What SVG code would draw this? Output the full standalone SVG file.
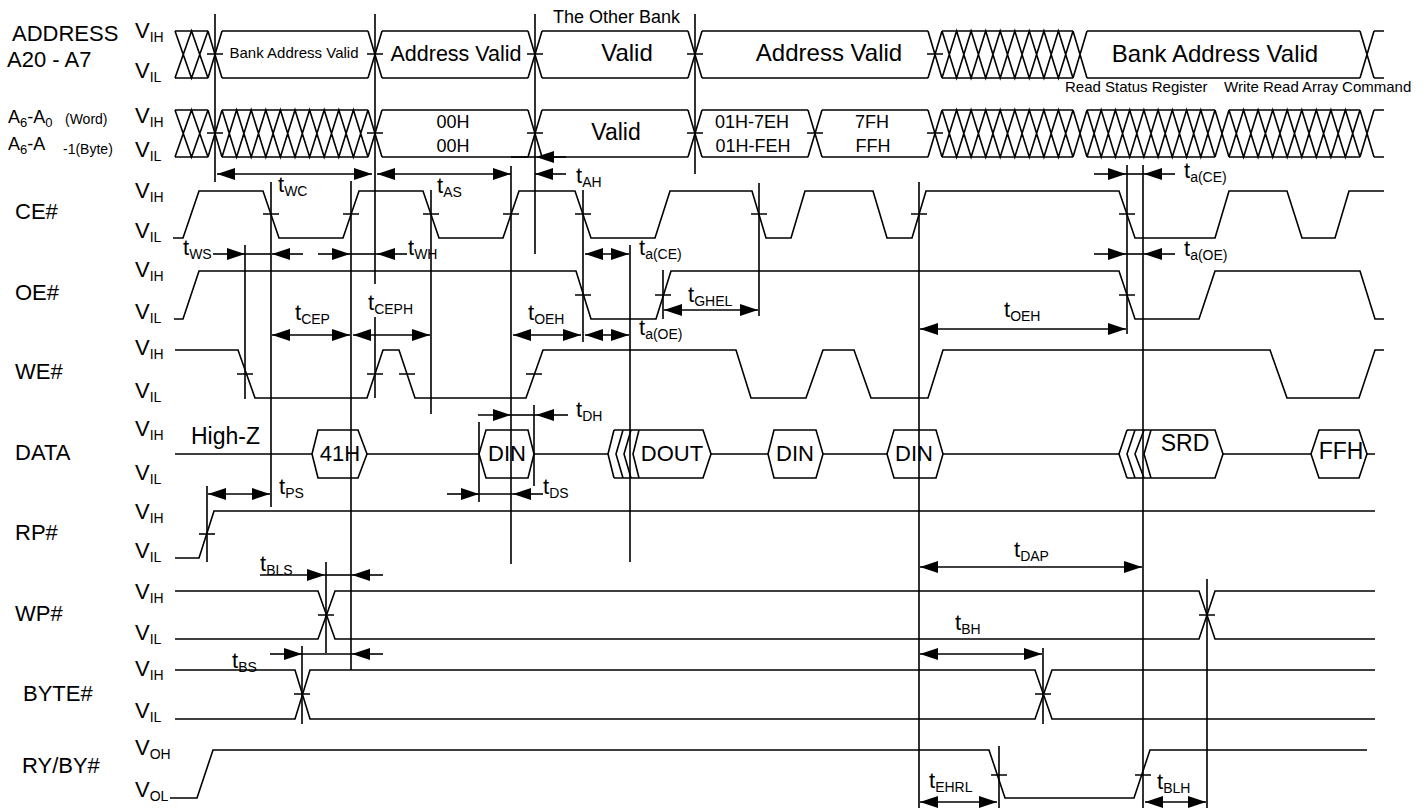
<svg xmlns="http://www.w3.org/2000/svg" width="1428" height="808" viewBox="0 0 1428 808">
<defs>
<marker id="ah" viewBox="0 0 18 12" markerWidth="18" markerHeight="12" refX="18" refY="6" orient="auto-start-reverse" markerUnits="userSpaceOnUse"><path d="M0,0 L18,6 L0,12 z" fill="#000"/></marker>
</defs>
<style>
.w{fill:none;stroke:#000;stroke-width:1.6}
.a{fill:none;stroke:#000;stroke-width:1.6;marker-end:url(#ah)}
.d{fill:none;stroke:#000;stroke-width:1.6;marker-start:url(#ah);marker-end:url(#ah)}
text{font-family:"Liberation Sans",Arial,Helvetica,sans-serif;fill:#000}
.n{font-size:22px}
.v{font-size:22px}
.s{font-size:14px}
.c{text-anchor:middle}
</style>
<rect width="1428" height="808" fill="#fff"/>

<g id="sig-address">
<text class="n" x="12" y="41">ADDRESS</text>
<text class="n" x="7" y="67">A20 - A7</text>
<text class="v" x="135" y="38">V<tspan class="s" dy="4">IH</tspan></text>
<text class="v" x="135" y="78">V<tspan class="s" dy="4">IL</tspan></text>
<path class="w" d="M175,31 H208 M222,31 H368 M382,31 H528 M542,31 H688 M702,31 H928 M942,31 H1073 M1087,31 H1360 M1374,31 H1384 M175,78 H208 M222,78 H368 M382,78 H528 M542,78 H688 M702,78 H928 M942,78 H1073 M1087,78 H1360 M1374,78 H1384"/>
<path class="w" d="M208,31 L222,78 M208,78 L222,31 M368,31 L382,78 M368,78 L382,31 M528,31 L542,78 M528,78 L542,31 M688,31 L702,78 M688,78 L702,31 M928,31 L942,78 M928,78 L942,31 M1073,31 L1087,78 M1073,78 L1087,31 M1360,31 L1374,78 M1360,78 L1374,31"/>
<path class="w" d="M175,31 L191.5,78 L208,31 M175,78 L191.5,31 L208,78 M942,31 L956.6,78 L971.1,31 L985.7,78 L1000.2,31 L1014.8,78 L1029.3,31 L1043.9,78 L1058.4,31 L1073,78 M942,78 L956.6,31 L971.1,78 L985.7,31 L1000.2,78 L1014.8,31 L1029.3,78 L1043.9,31 L1058.4,78 L1073,31"/>
<path class="w" d="M207,54 H223 M367,54 H383 M527,54 H543 M687,54 H703 M927,54 H943"/>
<text x="294" y="58" font-size="15" class="c">Bank Address Valid</text>
<text x="456" y="61" font-size="21.5" class="c">Address Valid</text>
<text x="627" y="61" font-size="24" class="c">Valid</text>
<text x="829" y="61" font-size="24" class="c">Address Valid</text>
<text x="1215" y="62" font-size="24" class="c">Bank Address Valid</text>
<text x="553" y="23" font-size="18">The Other Bank</text>
<text x="1065" y="92" font-size="15">Read Status Register</text>
<text x="1224" y="92" font-size="15">Write Read Array Command</text>
</g>

<g id="sig-a">
<text x="8" y="123" font-size="18">A<tspan font-size="13" dy="4">6</tspan><tspan dy="-4">-A</tspan><tspan font-size="13" dy="4">0</tspan><tspan x="65" font-size="14" dy="-3">(Word)</tspan></text>
<text x="8" y="150" font-size="18">A<tspan font-size="13" dy="4">6</tspan><tspan dy="-4">-A</tspan><tspan x="63" font-size="14" dy="4">-1</tspan><tspan font-size="14">(Byte)</tspan></text>
<text class="v" x="135" y="123">V<tspan class="s" dy="4">IH</tspan></text>
<text class="v" x="135" y="157">V<tspan class="s" dy="4">IL</tspan></text>
<path class="w" d="M175,110 H208 M222,110 H368 M382,110 H528 M542,110 H688 M702,110 H808 M822,110 H928 M942,110 H1073 M1087,110 H1215 M1229,110 H1360 M1374,110 H1384 M175,157 H208 M222,157 H368 M382,157 H528 M542,157 H688 M702,157 H808 M822,157 H928 M942,157 H1073 M1087,157 H1215 M1229,157 H1360 M1374,157 H1384"/>
<path class="w" d="M208,110 L222,157 M208,157 L222,110 M368,110 L382,157 M368,157 L382,110 M528,110 L542,157 M528,157 L542,110 M688,110 L702,157 M688,157 L702,110 M808,110 L822,157 M808,157 L822,110 M928,110 L942,157 M928,157 L942,110 M1073,110 L1087,157 M1073,157 L1087,110 M1215,110 L1229,157 M1215,157 L1229,110 M1360,110 L1374,157 M1360,157 L1374,110"/>
<path class="w" d="M175,110 L191.5,157 L208,110 M175,157 L191.5,110 L208,157
M222,110 L236.6,157 L251.2,110 L265.8,157 L280.4,110 L295,157 L309.6,110 L324.2,157 L338.8,110 L353.4,157 L368,110
M222,157 L236.6,110 L251.2,157 L265.8,110 L280.4,157 L295,110 L309.6,157 L324.2,110 L338.8,157 L353.4,110 L368,157
M942,110 L956.6,157 L971.1,110 L985.7,157 L1000.2,110 L1014.8,157 L1029.3,110 L1043.9,157 L1058.4,110 L1073,157
M942,157 L956.6,110 L971.1,157 L985.7,110 L1000.2,157 L1014.8,110 L1029.3,157 L1043.9,110 L1058.4,157 L1073,110
M1087,110 L1101.2,157 L1115.4,110 L1129.7,157 L1143.9,110 L1158.1,157 L1172.3,110 L1186.6,157 L1200.8,110 L1215,157
M1087,157 L1101.2,110 L1115.4,157 L1129.7,110 L1143.9,157 L1158.1,110 L1172.3,157 L1186.6,110 L1200.8,157 L1215,110
M1229,110 L1243.6,157 L1258.1,110 L1272.7,157 L1287.2,110 L1301.8,157 L1316.3,110 L1330.9,157 L1345.4,110 L1360,157
M1229,157 L1243.6,110 L1258.1,157 L1272.7,110 L1287.2,157 L1301.8,110 L1316.3,157 L1330.9,110 L1345.4,157 L1360,110"/>
<path class="w" d="M207,133 H223 M367,133 H383 M527,133 H543 M687,133 H703 M807,133 H823 M927,133 H943"/>
<text x="453" y="128" font-size="18" class="c">00H</text>
<text x="453" y="152" font-size="18" class="c">00H</text>
<text x="616" y="140" font-size="23" class="c">Valid</text>
<text x="752" y="128" font-size="18" class="c">01H-7EH</text>
<text x="753" y="152" font-size="18" class="c">01H-FEH</text>
<text x="872" y="128" font-size="18" class="c">7FH</text>
<text x="873" y="152" font-size="18" class="c">FFH</text>
</g>

<g id="sig-ce">
<text class="n" x="15" y="219">CE#</text>
<text class="v" x="135" y="198">V<tspan class="s" dy="4">IH</tspan></text>
<text class="v" x="135" y="238">V<tspan class="s" dy="4">IL</tspan></text>
<path class="w" d="M173,238 H183 L199,191 H263 L279,238 H343 L359,191 H423 L439,238 H503 L519,191 H575 L591,238 H655 L670,191 H752 L766,238 H791 L805,191 H873 L887,238 H912 L926,191 H1119 L1135,238 H1215 L1229,191 H1287 L1302,238 H1335 L1349,191 H1384"/>
<path class="w" d="M263,214 H279 M343,214 H359 M423,214 H439 M503,214 H519 M575,214 H591 M751,214 H767 M911,214 H927 M1119,214 H1135"/>
</g>

<g id="sig-oe">
<text class="n" x="15" y="300">OE#</text>
<text class="v" x="135" y="277">V<tspan class="s" dy="4">IH</tspan></text>
<text class="v" x="135" y="319">V<tspan class="s" dy="4">IL</tspan></text>
<path class="w" d="M174,319 H183 L199,271 H576 L591,319 H656 L671,271 H1119 L1135,319 H1199 L1215,271 H1360 L1375,319 H1384"/>
<path class="w" d="M575,295 H591 M655,295 H671 M1119,295 H1135"/>
</g>

<g id="sig-we">
<text class="n" x="15" y="379">WE#</text>
<text class="v" x="135" y="355">V<tspan class="s" dy="4">IH</tspan></text>
<text class="v" x="135" y="398">V<tspan class="s" dy="4">IL</tspan></text>
<path class="w" d="M175,350 H238 L255,398 H367 L383,350 H399 L415,398 H526 L543,350 H736 L751,398 H806 L823,350 H854 L871,398 H928 L943,350 H1270 L1287,398 H1359 L1375,350 H1384"/>
<path class="w" d="M237,374 H253 M367,374 H383 M399,374 H415 M526,374 H542"/>
</g>

<g id="sig-data">
<text class="n" x="15" y="460">DATA</text>
<text class="v" x="135" y="436">V<tspan class="s" dy="4">IH</tspan></text>
<text class="v" x="135" y="480">V<tspan class="s" dy="4">IL</tspan></text>
<path class="w" d="M175,454 H312 M367,454 H479 M534,454 H608 M711,454 H768 M823,454 H887 M943,454 H1119 M1223,454 H1311 M1367,454 H1375"/>
<path class="w" d="M312,454 L318,430 H358 L367,454 L358,478 H318 Z"/>
<path class="w" d="M479,454 L486,430 H528 L534,454 L528,478 H486 Z"/>
<path class="w" d="M614,430 L608,454 L614,478 M623,430 L616,454 L623,478 M631,430 L624,454 L631,478 M639,430 L633,454 L639,478 M614,430 H703 L711,454 L703,478 H614"/>
<path class="w" d="M768,454 L774,430 H816 L823,454 L816,478 H774 Z"/>
<path class="w" d="M887,454 L894,430 H936 L943,454 L936,478 H894 Z"/>
<path class="w" d="M1127,430 L1119,454 L1127,478 M1135,430 L1127,454 L1135,478 M1144,430 L1135,454 L1144,478 M1151,430 L1144,454 L1151,478 M1127,430 H1215 L1223,454 L1215,478 H1127"/>
<path class="w" d="M1311,454 L1319,430 H1359 L1367,454 L1359,478 H1319 Z"/>
<text x="191" y="444" font-size="23">High-Z</text>
<text x="340" y="461" font-size="22" class="c">41H</text>
<text x="507" y="461" font-size="22" class="c">DIN</text>
<text x="672" y="461" font-size="22" class="c">DOUT</text>
<text x="795" y="461" font-size="22" class="c">DIN</text>
<text x="914" y="461" font-size="22" class="c">DIN</text>
<text x="1185" y="451" font-size="23" class="c">SRD</text>
<text x="1341" y="459" font-size="23" class="c">FFH</text>
</g>

<g id="sig-rp">
<text class="n" x="15" y="540">RP#</text>
<text class="v" x="135" y="519">V<tspan class="s" dy="4">IH</tspan></text>
<text class="v" x="135" y="558">V<tspan class="s" dy="4">IL</tspan></text>
<path class="w" d="M175,558 H199 L214,511 H1375"/>
<path class="w" d="M199,534 H215"/>
</g>

<g id="sig-wp">
<text class="n" x="15" y="621">WP#</text>
<text class="v" x="135" y="599">V<tspan class="s" dy="4">IH</tspan></text>
<text class="v" x="135" y="640">V<tspan class="s" dy="4">IL</tspan></text>
<path class="w" d="M175,591 H318 L335,639 H1199 L1215,591 H1375 M175,639 H318 L335,591 H1199 L1215,639 H1375"/>
<path class="w" d="M318,615 H334 M1199,615 H1215"/>
</g>

<g id="sig-byte">
<text class="n" x="23" y="701">BYTE#</text>
<text class="v" x="135" y="676">V<tspan class="s" dy="4">IH</tspan></text>
<text class="v" x="135" y="718">V<tspan class="s" dy="4">IL</tspan></text>
<path class="w" d="M175,670 H295 L310,719 H1035 L1052,670 H1375 M175,719 H295 L310,670 H1035 L1052,719 H1375"/>
<path class="w" d="M294,694 H310 M1035,694 H1051"/>
</g>

<g id="sig-ryby">
<text class="n" x="22" y="773">RY/BY#</text>
<text class="v" x="135" y="755">V<tspan class="s" dy="4">OH</tspan></text>
<text class="v" x="135" y="797">V<tspan class="s" dy="4">OL</tspan></text>
<path class="w" d="M170,798 H197 L213,750 H989 L1005,798 H1134 L1150,750 H1367"/>
<path class="w" d="M991,775 H1007 M1135,775 H1151"/>
</g>

<g id="connectors">
<path class="w" d="M215,14 V182 M375,14 V284 M375,317 V398 M535,14 V254 M695,14 V174 M245,245 V399 M271,182 V507 M351,181 V670 M431,190 V414 M511,166 V564 M583,190 V342 M630,245 V562 M663,270 V319 M759,183 V316 M919,182 V808 M1127,165 V334 M1143,165 V808 M1207,579 V808 M1043,648 V724 M999,746 V808 M326,562 V653 M302,646 V724 M207,486 V562 M479,422 V502 M534,405 V486"/>
<path class="d" d="M217,174 H372"/>
<path class="d" d="M377,174 H511"/>
<path class="a" d="M566,174 H535"/>
<path class="w" d="M511,157 H536"/>
<path class="a" d="M566,157 H536"/>
<path class="a" d="M213,254 H245"/>
<path class="w" d="M245,254 H271"/>
<path class="a" d="M303,254 H272"/>
<path class="a" d="M318,254 H350"/>
<path class="w" d="M350,254 H377"/>
<path class="a" d="M407,254 H377"/>
<path class="d" d="M272,335 H350"/>
<path class="d" d="M353,335 H430"/>
<path class="d" d="M513,335 H581"/>
<path class="d" d="M585,335 H629"/>
<path class="d" d="M585,254 H629"/>
<path class="d" d="M664,310 H758"/>
<path class="d" d="M920,329 H1126"/>
<path class="a" d="M1094,174 H1126"/>
<path class="w" d="M1126,174 H1144"/>
<path class="a" d="M1175,174 H1144"/>
<path class="a" d="M1094,254 H1126"/>
<path class="w" d="M1126,254 H1144"/>
<path class="a" d="M1175,254 H1144"/>
<path class="a" d="M478,415 H511"/>
<path class="w" d="M511,415 H536"/>
<path class="a" d="M568,415 H536"/>
<path class="a" d="M447,494 H479"/>
<path class="w" d="M479,494 H513"/>
<path class="a" d="M543,494 H513"/>
<path class="d" d="M208,494 H270"/>
<path class="a" d="M260,575 H325"/>
<path class="w" d="M325,575 H352"/>
<path class="a" d="M383,575 H352"/>
<path class="a" d="M270,654 H302"/>
<path class="w" d="M302,654 H352"/>
<path class="a" d="M383,654 H352"/>
<path class="d" d="M920,567 H1142"/>
<path class="d" d="M920,654 H1042"/>
<path class="d" d="M920,802 H997"/>
<path class="d" d="M1145,802 H1206"/>
</g>

<g id="timing-labels">
<text class="v" x="278" y="192">t<tspan class="s" dy="4">WC</tspan></text>
<text class="v" x="437" y="193">t<tspan class="s" dy="4">AS</tspan></text>
<text class="v" x="576" y="183">t<tspan class="s" dy="4">AH</tspan></text>
<text class="v" x="183" y="255">t<tspan class="s" dy="4">WS</tspan></text>
<text class="v" x="408" y="255">t<tspan class="s" dy="4">WH</tspan></text>
<text class="v" x="295" y="320">t<tspan class="s" dy="4">CEP</tspan></text>
<text class="v" x="368" y="310">t<tspan class="s" dy="4">CEPH</tspan></text>
<text class="v" x="528" y="320">t<tspan class="s" dy="4">OEH</tspan></text>
<text class="v" x="639" y="255">t<tspan class="s" dy="4">a(CE)</tspan></text>
<text class="v" x="639" y="335">t<tspan class="s" dy="4">a(OE)</tspan></text>
<text class="v" x="688" y="302">t<tspan class="s" dy="4">GHEL</tspan></text>
<text class="v" x="1004" y="317">t<tspan class="s" dy="4">OEH</tspan></text>
<text class="v" x="1184" y="178">t<tspan class="s" dy="4">a(CE)</tspan></text>
<text class="v" x="1184" y="256">t<tspan class="s" dy="4">a(OE)</tspan></text>
<text class="v" x="576" y="417">t<tspan class="s" dy="4">DH</tspan></text>
<text class="v" x="543" y="494">t<tspan class="s" dy="4">DS</tspan></text>
<text class="v" x="279" y="494">t<tspan class="s" dy="4">PS</tspan></text>
<text class="v" x="260" y="571">t<tspan class="s" dy="4">BLS</tspan></text>
<text class="v" x="232" y="668">t<tspan class="s" dy="4">BS</tspan></text>
<text class="v" x="1014" y="557">t<tspan class="s" dy="4">DAP</tspan></text>
<text class="v" x="955" y="630">t<tspan class="s" dy="4">BH</tspan></text>
<text class="v" x="929" y="788">t<tspan class="s" dy="4">EHRL</tspan></text>
<text class="v" x="1157" y="789">t<tspan class="s" dy="4">BLH</tspan></text>
</g>
</svg>
